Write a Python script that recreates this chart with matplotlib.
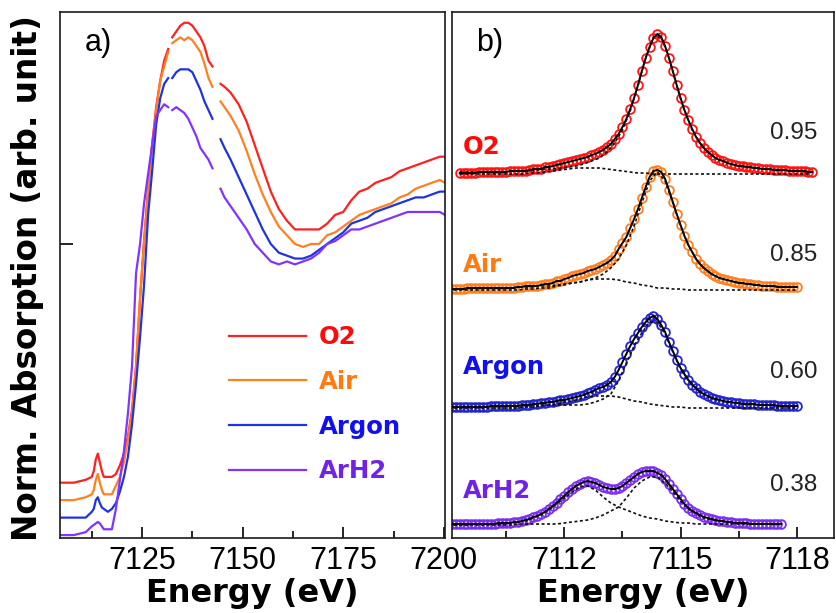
import numpy as np
import matplotlib
matplotlib.use('Agg')
import matplotlib.pyplot as plt
from matplotlib.ticker import MultipleLocator, FixedLocator, NullFormatter

plt.rcParams['font.family'] = ['Liberation Sans', 'DejaVu Sans']

# ---------------- panel a) : Fe K-edge XANES ----------------
# nan entries are the small breaks visible in the original traces
E_xanes = [7104.6, 7108, 7111, 7112.5, 7113, 7113.5, 7114, 7114.5, 7115,
           7115.5, 7116.5, 7117.5, 7118.5, 7119.5, 7120.5, 7121.5, 7122.5, 7123.5,
           7124.5, 7125.5, 7126.5, 7127.5, 7128.5, 7129.5, 7130.5, 7131.5,
           7132.0,
           7132.5, 7133.5, 7134.5, 7135.5, 7136.5, 7137.5, 7138.5, 7139.5, 7140.5,
           7141.5, 7142.5,
           7143.5,
           7144.5, 7145.5,
           7147, 7149, 7151, 7153, 7155, 7157, 7159, 7161, 7163, 7165, 7167, 7169,
           7171, 7173, 7175, 7177, 7179, 7181, 7183, 7185, 7187, 7189, 7191, 7193,
           7195, 7197, 7199,
           7200.3]
nan = np.nan
xanes_o2 = [0.00, 0.00, 0.01, 0.02, 0.04, 0.08, 0.10, 0.07, 0.04,
            0.02, 0.02, 0.02, 0.03, 0.06, 0.10, 0.16, 0.25, 0.40, 0.63, 0.83, 1.01,
            1.16, 1.29, 1.38, 1.45, 1.49,
            nan,
            1.53, 1.55, 1.57, 1.58, 1.58, 1.57, 1.55, 1.53, 1.50, 1.45, 1.43,
            nan,
            1.37, 1.36,
            1.34, 1.30, 1.24, 1.16, 1.08, 1.00, 0.94, 0.90, 0.87, 0.87, 0.87, 0.87,
            0.89, 0.92, 0.93, 0.97, 1.00, 1.01, 1.03, 1.04, 1.05, 1.07, 1.08, 1.09,
            1.10, 1.11, 1.12,
            1.12]
xanes_air = [0.00, 0.00, 0.01, 0.02, 0.035, 0.07, 0.09, 0.06, 0.035,
             0.02, 0.02, 0.02, 0.05, 0.08, 0.13, 0.21, 0.30, 0.46, 0.70, 0.89, 1.06,
             1.22, 1.34, 1.44, 1.49, 1.54,
             nan,
             1.57, 1.58, 1.59, 1.58, 1.59, 1.58, 1.56, 1.54, 1.50, 1.45, 1.42,
             nan,
             1.37, 1.35,
             1.32, 1.27, 1.20, 1.12, 1.05, 0.99, 0.94, 0.91, 0.88, 0.87, 0.88, 0.88,
             0.91, 0.92, 0.94, 0.96, 0.98, 0.99, 1.00, 1.01, 1.02, 1.04, 1.05, 1.07,
             1.08, 1.09, 1.10,
             1.09]
xanes_argon = [0.00, 0.00, 0.00, 0.02, 0.03, 0.06, 0.07, 0.05, 0.035,
               0.03, 0.02, 0.03, 0.05, 0.09, 0.14, 0.21, 0.32, 0.46, 0.62, 0.80, 1.04,
               1.19, 1.35, 1.44, 1.49, 1.51,
               nan,
               1.51, 1.53, 1.54, 1.54, 1.54, 1.53, 1.50, 1.47, 1.43, 1.40, 1.37,
               nan,
               1.30, 1.27,
               1.23, 1.17, 1.11, 1.05, 0.99, 0.94, 0.91, 0.90, 0.89, 0.89, 0.90, 0.92,
               0.94, 0.96, 0.98, 1.01, 1.02, 1.03, 1.05, 1.06, 1.07, 1.08, 1.09, 1.10,
               1.10, 1.11, 1.12,
               1.12]
xanes_arh2 = [0.00, 0.00, 0.01, 0.03, 0.035, 0.04, 0.045, 0.04, 0.03,
              0.02, 0.02, 0.02, 0.09, 0.19, 0.29, 0.42, 0.58, 0.90, 1.00, 1.14, 1.24,
              1.34, 1.44, 1.46, 1.48, 1.47,
              nan,
              1.46, 1.47, 1.46, 1.45, 1.43, 1.40, 1.37, 1.33, 1.31, 1.29, 1.26,
              nan,
              1.19, 1.16,
              1.13, 1.09, 1.05, 1.00, 0.97, 0.94, 0.93, 0.94, 0.93, 0.94, 0.95, 0.97,
              1.00, 1.01, 1.03, 1.05, 1.05, 1.06, 1.07, 1.08, 1.09, 1.10, 1.11, 1.11,
              1.11, 1.11, 1.11,
              1.10]

names = ['O2', 'Air', 'Argon', 'ArH2']
xanes_offsets = [0.18, 0.12, 0.06, 0.0]
line_colors = ['#ff2020', '#ff8020', '#1f33e0', '#8233ff']
text_colors = ['#ff0a0a', '#ff7a10', '#1010f0', '#7022e6']

# ---------------- panel b) : pre-edge peak fits ----------------
# measured points, 0.1 eV apart (height above baseline)
pre_start = [7109.3, 7109.0, 7109.0, 7109.0]
pre_o2 = [.01, .01, .01, .01, .01, .02, .02, .02, .02, .02,
          .02, .02, .02, .03, .03, .03, .03, .03, .04, .05,
          .05, .05, .07, .07, .08, .09, .10, .11, .12, .13,
          .14, .15, .16, .17, .19, .20, .22, .24, .27, .30,
          .35, .40, .47, .55, .65, .76, .89, 1.03, 1.16, 1.27,
          1.36, 1.40, 1.37, 1.28, 1.16, 1.03, .89, .76, .64, .54,
          .45, .37, .31, .26, .22, .19, .16, .14, .13, .11,
          .10, .09, .08, .08, .07, .07, .06, .06, .05, .05,
          .05, .04, .04, .04, .04, .03, .03, .03, .03, .03,
          .02, .02]
pre_air = [.01, .01, .01, .01, .01, .02, .02, .02, .02, .02,
           .02, .02, .02, .02, .02, .02, .02, .02, .03, .03,
           .04, .04, .04, .04, .05, .06, .06, .07, .09, .09,
           .11, .12, .14, .15, .16, .17, .19, .20, .21, .23,
           .25, .27, .30, .34, .41, .47, .53, .62, .71, .81,
           .92, 1.03, 1.13, 1.19, 1.20, 1.18, 1.11, 1.00, .88, .76,
           .65, .54, .45, .38, .31, .26, .22, .19, .16, .14,
           .12, .11, .10, .09, .08, .07, .07, .06, .06, .05,
           .05, .04, .04, .04, .04, .03, .03, .03, .03, .03,
           .03]
pre_argon = [.01, .01, .01, .01, .01, .01, .01, .01, .01, .01,
             .01, .02, .02, .02, .02, .02, .02, .02, .02, .03,
             .03, .03, .04, .04, .05, .05, .06, .06, .07, .08,
             .08, .09, .10, .11, .12, .13, .15, .16, .18, .20,
             .21, .23, .26, .31, .38, .46, .54, .62, .69, .75,
             .81, .86, .90, .92, .89, .83, .76, .66, .57, .48,
             .40, .34, .28, .23, .20, .16, .14, .12, .10, .09,
             .08, .07, .06, .06, .05, .05, .04, .04, .04, .04,
             .03, .03, .03, .03, .03, .02, .02, .02, .02, .02,
             .02]
pre_arh2 = [.01, .01, .01, .01, .01, .01, .01, .01, .01, .01,
            .01, .01, .01, .02, .02, .02, .02, .03, .03, .04,
            .05, .06, .08, .09, .11, .13, .16, .19, .22, .26,
            .29, .33, .36, .39, .41, .43, .44, .43, .42, .40,
            .38, .37, .36, .36, .37, .39, .42, .45, .48, .51,
            .53, .54, .54, .54, .52, .50, .46, .41, .36, .31,
            .26, .21, .17, .14, .12, .10, .08, .07, .06, .05,
            .04, .04, .03, .03, .02, .02, .02, .02, .01, .01,
            .01, .01, .01, .01, .01, .01, .01]

# fitted components, 0.2 eV apart (main peak, low-energy peak)
o2_main = [.02, .02, .02, .02, .02, .02, .02, .03, .03, .03,
           .04, .05, .05, .06, .07, .08, .10, .13, .16, .22,
           .31, .44, .63, .88, 1.16, 1.37, 1.37, 1.16, .88, .63,
           .44, .31, .22, .16, .13, .10, .08, .07, .06, .05,
           .05, .04, .04, .03, .03, .02]
o2_low = [0, 0, 0, 0, 0, 0, 0, 0, 0, .01,
          .01, .02, .03, .04, .05, .06, .06, .06, .06, .05,
          .04, .03, .02, .01, .01, 0, 0, 0, 0, 0,
          0, 0, 0, 0, 0, 0, 0, 0, 0, 0,
          0, 0, 0, 0, 0, 0]
air_main = [.01, .01, .01, .02, .02, .02, .02, .02, .02, .03,
            .03, .03, .04, .04, .05, .06, .07, .08, .10, .12,
            .16, .22, .31, .45, .64, .87, 1.09, 1.18, 1.09, .87,
            .64, .45, .31, .22, .16, .12, .10, .08, .07, .06,
            .05, .04, .04, .03, .03, .03]
air_low = [0, 0, 0, 0, 0, 0, 0, 0, 0, 0,
           .01, .01, .02, .02, .04, .05, .07, .08, .10, .11,
           .11, .11, .10, .08, .07, .05, .04, .02, .02, .01,
           .01, 0, 0, 0, 0, 0, 0, 0, 0, 0,
           0, 0, 0, 0, 0, 0]
argon_main = [.01, .01, .01, .01, .01, .01, .02, .02, .02, .02,
              .02, .03, .03, .03, .03, .03, .03, .03, .04, .06,
              .09, .14, .27, .45, .62, .75, .86, .86, .74, .56,
              .39, .28, .20, .14, .10, .08, .06, .05, .04, .04,
              .03, .03, .03, .02, .02, .02]
argon_low = [0, 0, 0, 0, 0, 0, 0, 0, 0, 0,
             .01, .01, .02, .03, .04, .06, .07, .09, .11, .12,
             .12, .12, .11, .09, .07, .06, .04, .03, .02, .01,
             .01, 0, 0, 0, 0, 0, 0, 0, 0, 0,
             0, 0, 0, 0, 0, 0]
arh2_main = [0, 0, 0, 0, 0, 0, 0, 0, 0, .01,
             .01, .01, .01, .01, .01, .02, .03, .04, .05, .07,
             .10, .14, .18, .27, .37, .44, .48, .48, .42, .33,
             .24, .16, .11, .07, .05, .04, .03, .02, .02, .01,
             .01, .01, .01, .01]
arh2_low = [0, 0, 0, .01, .01, .01, .01, .01, .02, .03,
            .04, .07, .10, .15, .21, .27, .33, .38, .39, .35,
            .28, .22, .18, .15, .12, .09, .07, .06, .04, .03,
            .02, .02, .01, .01, .01, .01, .01, .01, .01, .01,
            .01, .01, .01, .01]

fractions = ['0.95', '0.85', '0.60', '0.38']
pre_offsets = [3.64, 2.48, 1.30, 0.13]
pre_colors = ['#ff1414', '#ff7f1f', '#2424cc', '#7a2ef0']


def grid(start, n, step):
    return start + step * np.arange(n)


bold = dict(family='DejaVu Sans', weight='bold')

fig = plt.figure(figsize=(8.36, 6.13), dpi=100)
ax1 = fig.add_axes([60 / 836, 1 - 538 / 613, 385 / 836, 526 / 613])
ax2 = fig.add_axes([452 / 836, 1 - 538 / 613, 382 / 836, 526 / 613])
ax2.patch.set_visible(False)

# panel a
for vals, off, c, name in zip([xanes_o2, xanes_air, xanes_argon, xanes_arh2],
                              xanes_offsets, line_colors, names):
    ax1.plot(E_xanes, np.array(vals) + off, color=c, lw=1.6, label=name)

ax1.set_xlim(7104.6, 7200.3)
ax1.set_ylim(-0.01, 1.797)
ax1.xaxis.set_major_locator(MultipleLocator(25))
ax1.xaxis.set_minor_locator(MultipleLocator(12.5))
ax1.yaxis.set_major_locator(FixedLocator([1.0]))
ax1.yaxis.set_major_formatter(NullFormatter())
ax1.text(0.065, 0.941, 'a)', transform=ax1.transAxes, fontsize=22,
         ha='left', va='center')
leg = ax1.legend(loc='upper left', bbox_to_anchor=(0.439, 0.404), frameon=False,
                 borderpad=0, borderaxespad=0, handlelength=3.16,
                 handletextpad=0.53, labelspacing=0.84,
                 prop=dict(size=17.6, **bold))
for t, c in zip(leg.get_texts(), text_colors):
    t.set_color(c)

# panel b
pre_sets = [pre_o2, pre_air, pre_argon, pre_arh2]
comp_sets = [(o2_main, o2_low), (air_main, air_low),
             (argon_main, argon_low), (arh2_main, arh2_low)]
for vals, comps, start, off, c in zip(pre_sets, comp_sets, pre_start,
                                     pre_offsets, pre_colors):
    e = grid(start, len(vals), 0.1)
    y = np.array(vals) + off
    ax2.plot(e, y, 'o', ms=6.3, mfc='none', mec=c, mew=1.3, zorder=2)
    ax2.plot(e, y, '-', color='black', lw=1.4, zorder=3)
    for comp in comps:
        ec = grid(start, len(comp), 0.2)
        ax2.plot(ec, np.array(comp) + off, color='#111111', lw=1.2,
                 ls=(0, (1.8, 1.5)), zorder=4)

label_y = [3.91, 2.73, 1.71, 0.47]
frac_y = [4.05, 2.83, 1.66, 0.53]
for name, ly, fy, c, fr in zip(names, label_y, frac_y, text_colors, fractions):
    ax2.text(7109.38, ly, name, color=c, fontsize=17.6, ha='left', va='center',
             **bold)
    ax2.text(7118.54, fy, fr, color='#222222', fontsize=17.5, ha='right',
             va='center')

ax2.set_xlim(7109.1, 7118.96)
ax2.set_ylim(0, 5.26)
ax2.xaxis.set_major_locator(FixedLocator([7112, 7115, 7118]))
ax2.xaxis.set_minor_locator(FixedLocator([7110.5, 7113.5, 7116.5]))
ax2.yaxis.set_major_locator(FixedLocator([]))
ax2.text(0.063, 0.941, 'b)', transform=ax2.transAxes, fontsize=22,
         ha='left', va='center')

for ax in (ax1, ax2):
    for sp in ax.spines.values():
        sp.set_linewidth(1.2)
        sp.set_color('#1a1a1a')
    ax.tick_params(axis='x', which='major', direction='in', length=8, width=1.2,
                   labelsize=22, pad=6)
    ax.tick_params(axis='x', which='minor', direction='in', length=5, width=1.2)
    ax.tick_params(axis='y', which='major', direction='in', length=9, width=1.2)
    ax.text(0.5, -0.106, 'Energy (eV)', transform=ax.transAxes, fontsize=23,
            ha='center', va='center', **bold)

fig.text(28 / 836, 1 - 278 / 613, 'Norm. Absorption (arb. unit)', rotation=90,
         fontsize=23.5, ha='center', va='center', **bold)

fig.savefig('out.png', dpi=100)
